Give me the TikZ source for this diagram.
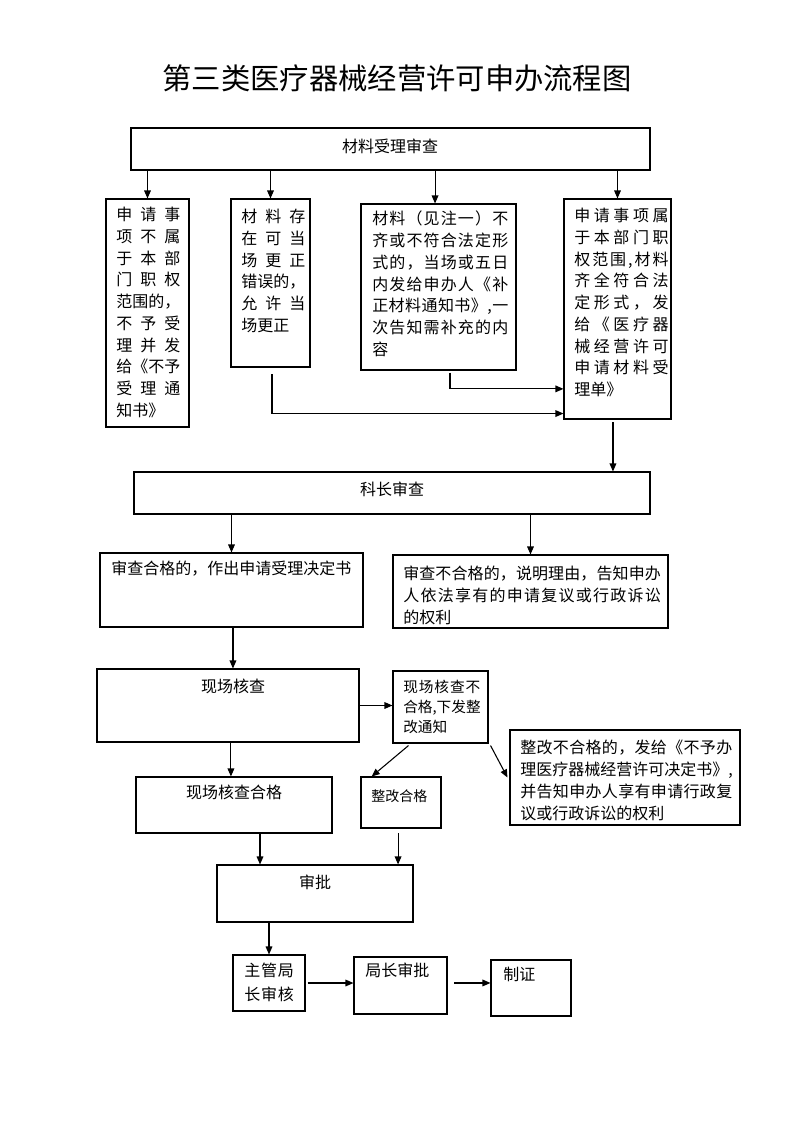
\documentclass[tikz,border=0pt]{standalone}
\usepackage{fontspec}
\setmainfont{Noto Sans CJK SC}
\usetikzlibrary{arrows.meta,calc}
\def\sprA#1{#1\sprB}
\def\sprB#1{\ifx\relax#1\else\hfill#1\expandafter\sprB\fi}
\newcommand\spr[2]{\makebox[#1][s]{\sprA#2\relax}}
\newcommand\bx[5]{\node[boxst, minimum width={(#4-#2)*0.75pt}, minimum height={(#5-#3)*0.75pt}] (#1) at ({(#2+#4)/2},{(#3+#5)/2}) {};}
\tikzset{
 boxst/.style={draw, line width=0.8pt, inner sep=0pt},
 txt/.style={inner sep=0pt, anchor=north west, align=left, font=\fontsize{12pt}{16.3pt}\selectfont},
 ctxt/.style={inner sep=0pt, anchor=center, font=\fontsize{12pt}{16.3pt}\selectfont},
 arr/.style={-{Triangle[length=6pt,width=5pt]}, line width=0.8pt},
}
\begin{document}
\begin{tikzpicture}[x=0.75pt,y=-0.75pt]
\useasboundingbox (0,0) rectangle (793,1122);
\fill[white] (0,0) rectangle (793,1122);
\node[inner sep=0pt, font=\fontsize{22pt}{26pt}\selectfont] (title) at (397,78) {第三类医疗器械经营许可申办流程图};

% boxes
\bx{A}{131}{128}{650}{170}
\bx{B1}{106}{199}{189}{427}
\bx{B2}{231}{199}{310}{367}
\bx{B3}{361}{204}{516}{370}
\bx{B4}{564}{199}{671}{419}
\bx{C}{134}{472}{650}{514}
\bx{D1}{100}{553}{363}{627}
\bx{D2}{393}{555}{668}{628}
\bx{E}{97}{669}{359}{742}
\bx{F}{393}{671}{488}{743}
\bx{G}{136}{777}{332}{833}
\bx{H}{361}{777}{441}{828}
\bx{I}{510}{730}{740}{825}
\bx{J}{217}{865}{413}{922}
\bx{K}{233}{955}{305}{1011}
\bx{L}{354}{957}{447}{1014}
\bx{M}{491}{960}{571}{1016}

% texts
\node[ctxt] (At) at (390,146) {材料受理审查};
\node[txt] (B1t) at (116,207) {\spr{4em}{申请事}\\ \spr{4em}{项不属}\\ \spr{4em}{于本部}\\ \spr{4em}{门职权}\\ 范围的，\\ \spr{4em}{不予受}\\ \spr{4em}{理并发}\\ 给《不予\\ \spr{4em}{受理通}\\ 知书》};
\node[txt] (B2t) at (241,209) {\spr{4em}{材料存}\\ \spr{4em}{在可当}\\ \spr{4em}{场更正}\\ 错误的，\\ \spr{4em}{允许当}\\ 场更正};
\node[txt] (B3t) at (372,211) {\spr{8.5em}{材料（见注一）不}\\ \spr{8.5em}{齐或不符合法定形}\\ \spr{8.5em}{式的，当场或五日}\\ \spr{8.5em}{内发给申办人《补}\\ \spr{8.5em}{正材料通知书》,一}\\ \spr{8.5em}{次告知需补充的内}\\ 容};
\node[txt] (B4t) at (574,208) {\spr{5.9em}{申请事项属}\\ \spr{5.9em}{于本部门职}\\ \spr{5.9em}{权范围,材料}\\ \spr{5.9em}{齐全符合法}\\ \spr{5.9em}{定形式，发}\\ \spr{5.9em}{给《医疗器}\\ \spr{5.9em}{械经营许可}\\ \spr{5.9em}{申请材料受}\\ 理单》};
\node[ctxt] (Ct) at (392,489) {科长审查};
\node[txt] (D1t) at (111,561) {审查合格的，作出申请受理决定书};
\node[txt] (D2t) at (403,566) {\spr{16.1em}{审查不合格的，说明理由，告知申办}\\ \spr{16.1em}{人依法享有的申请复议或行政诉讼}\\ 的权利};
\node[ctxt] (Et) at (233,686) {现场核查};
\node[txt, font=\fontsize{11pt}{15pt}\selectfont] (Ft) at (403,680) {\spr{5.25em}{现场核查不}\\ \spr{5.25em}{合格,下发整}\\ 改通知};
\node[ctxt] (Gt) at (234,792) {现场核查合格};
\node[txt, font=\fontsize{10.5pt}{14pt}\selectfont] (Ht) at (371,789) {整改合格};
\node[txt] (It) at (520,740) {\spr{13.25em}{整改不合格的，发给《不予办}\\ \spr{13.25em}{理医疗器械经营许可决定书》,}\\ \spr{13.25em}{并告知申办人享有申请行政复}\\ 议或行政诉讼的权利};
\node[ctxt] (Jt) at (315,882) {审批};
\node[txt, font=\fontsize{12pt}{18pt}\selectfont] (Kt) at (244,963) {\spr{3.1em}{主管局}\\ \spr{3.1em}{长审核}};
\node[txt] (Lt) at (365,963) {局长审批};
\node[txt] (Mt) at (503,967) {制证};

% connectors
\draw[arr] (B1.north |- A.south) -- (B1.north);
\draw[arr] (B2.north |- A.south) -- (B2.north);
\draw[arr] ([xshift=-2.6pt]B3.north |- A.south) -- ([xshift=-2.6pt]B3.north);
\draw[arr] (B4.north |- A.south) -- (B4.north);
\draw[arr] ([xshift=1.1pt,yshift=-5pt]B2.south) |- ([yshift=4.5pt]B4.south west);
\draw[arr] ([xshift=8.6pt,yshift=-1.5pt]B3.south) |- ([yshift=23pt]B4.south west);
\draw[arr] ([xshift=-3.4pt,yshift=-2.2pt]B4.south) coordinate (p1) -- (p1 |- C.north);
\draw[arr] (D1.north |- C.south) -- (D1.north);
\draw[arr] (D2.north |- C.south) -- (D2.north);
\draw[arr] ([xshift=1.1pt]D1.south) coordinate (p2) -- (p2 |- E.north);
\draw[arr] (E.east) -- (E.east -| F.west);
\draw[arr] ([xshift=2.2pt]E.south) coordinate (p3) -- (p3 |- G.north);
\draw[arr] ([xshift=-24pt,yshift=-1.5pt]F.south) -- ([xshift=-22pt]H.north);
\draw[arr] ([xshift=1.5pt,yshift=-1.5pt]F.south east) -- ([xshift=-1.5pt]I.west);
\draw[arr] ([xshift=19.5pt]G.south) coordinate (p4) -- (p4 |- J.north);
\draw[arr] ([xshift=-2.2pt,yshift=-3.7pt]H.south) coordinate (p5) -- (p5 |- J.north);
\draw[arr] (K.north |- J.south) -- (K.north);
\draw[arr] ([xshift=1.5pt]K.east) -- (K.east -| L.west);
\draw[arr] ([xshift=5pt,yshift=1.9pt]L.east) coordinate (p6) -- (p6 -| M.west);
\end{tikzpicture}
\end{document}
